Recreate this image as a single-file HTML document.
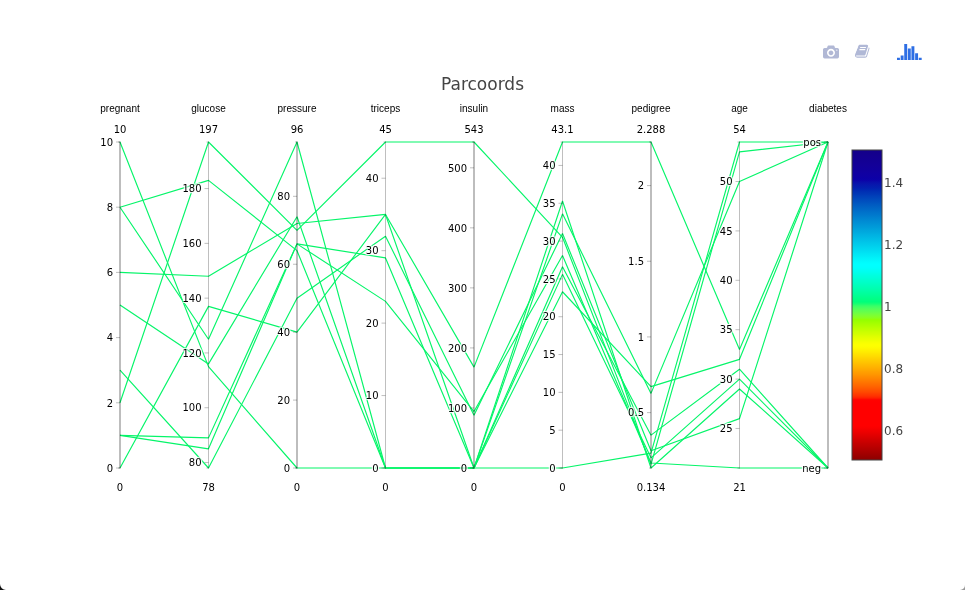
<!DOCTYPE html>
<html lang="en"><head><meta charset="utf-8"><title>Parcoords</title>
<style>
html,body{margin:0;padding:0;background:#fff;}
body{width:965px;height:590px;overflow:hidden;position:relative;}
svg{position:absolute;left:0;top:0;display:block;will-change:transform;}
.ttl{font-family:"DejaVu Sans","Liberation Sans",sans-serif;font-size:17px;fill:#444;}
.axt{font-family:"Liberation Sans",sans-serif;font-size:10px;fill:#000;}
.ext{font-family:"DejaVu Sans","Liberation Sans",sans-serif;font-size:10px;fill:#000;}
.tk{font-family:"DejaVu Sans","Liberation Sans",sans-serif;font-size:10px;fill:#000;text-shadow:1px 1px 1px #fff,-1px -1px 1px #fff,1px -1px 1px #fff,-1px 1px 1px #fff;}
.cb{font-family:"DejaVu Sans","Liberation Sans",sans-serif;font-size:12px;fill:#444;}
</style></head><body>
<svg width="965" height="590" viewBox="0 0 965 590">
<defs><linearGradient id="jet" x1="0" y1="1" x2="0" y2="0">
<stop offset="0.000" stop-color="rgb(141,0,0)"/>
<stop offset="0.006" stop-color="rgb(147,0,0)"/>
<stop offset="0.013" stop-color="rgb(154,0,0)"/>
<stop offset="0.019" stop-color="rgb(161,0,0)"/>
<stop offset="0.026" stop-color="rgb(168,0,0)"/>
<stop offset="0.032" stop-color="rgb(175,0,0)"/>
<stop offset="0.039" stop-color="rgb(182,0,0)"/>
<stop offset="0.045" stop-color="rgb(189,0,0)"/>
<stop offset="0.052" stop-color="rgb(195,0,0)"/>
<stop offset="0.058" stop-color="rgb(202,0,0)"/>
<stop offset="0.065" stop-color="rgb(209,0,0)"/>
<stop offset="0.071" stop-color="rgb(216,0,0)"/>
<stop offset="0.077" stop-color="rgb(223,0,0)"/>
<stop offset="0.084" stop-color="rgb(230,0,0)"/>
<stop offset="0.090" stop-color="rgb(237,0,0)"/>
<stop offset="0.097" stop-color="rgb(243,0,0)"/>
<stop offset="0.103" stop-color="rgb(250,0,0)"/>
<stop offset="0.110" stop-color="rgb(255,0,0)"/>
<stop offset="0.116" stop-color="rgb(255,0,0)"/>
<stop offset="0.123" stop-color="rgb(255,0,0)"/>
<stop offset="0.129" stop-color="rgb(255,0,0)"/>
<stop offset="0.135" stop-color="rgb(255,0,0)"/>
<stop offset="0.142" stop-color="rgb(255,0,0)"/>
<stop offset="0.148" stop-color="rgb(255,0,0)"/>
<stop offset="0.155" stop-color="rgb(255,0,0)"/>
<stop offset="0.161" stop-color="rgb(255,0,0)"/>
<stop offset="0.168" stop-color="rgb(255,0,0)"/>
<stop offset="0.174" stop-color="rgb(255,0,0)"/>
<stop offset="0.181" stop-color="rgb(255,0,0)"/>
<stop offset="0.187" stop-color="rgb(255,0,0)"/>
<stop offset="0.194" stop-color="rgb(255,2,0)"/>
<stop offset="0.200" stop-color="rgb(255,32,0)"/>
<stop offset="0.206" stop-color="rgb(255,49,0)"/>
<stop offset="0.213" stop-color="rgb(255,61,0)"/>
<stop offset="0.219" stop-color="rgb(255,73,0)"/>
<stop offset="0.226" stop-color="rgb(255,83,0)"/>
<stop offset="0.232" stop-color="rgb(255,92,0)"/>
<stop offset="0.239" stop-color="rgb(255,102,0)"/>
<stop offset="0.245" stop-color="rgb(255,110,0)"/>
<stop offset="0.252" stop-color="rgb(255,119,0)"/>
<stop offset="0.258" stop-color="rgb(255,127,0)"/>
<stop offset="0.265" stop-color="rgb(255,136,0)"/>
<stop offset="0.271" stop-color="rgb(255,144,0)"/>
<stop offset="0.277" stop-color="rgb(255,152,0)"/>
<stop offset="0.284" stop-color="rgb(255,159,0)"/>
<stop offset="0.290" stop-color="rgb(255,167,0)"/>
<stop offset="0.297" stop-color="rgb(255,175,0)"/>
<stop offset="0.303" stop-color="rgb(255,182,0)"/>
<stop offset="0.310" stop-color="rgb(255,190,0)"/>
<stop offset="0.316" stop-color="rgb(255,197,0)"/>
<stop offset="0.323" stop-color="rgb(255,205,0)"/>
<stop offset="0.329" stop-color="rgb(255,212,0)"/>
<stop offset="0.335" stop-color="rgb(255,220,0)"/>
<stop offset="0.342" stop-color="rgb(255,227,0)"/>
<stop offset="0.348" stop-color="rgb(255,235,0)"/>
<stop offset="0.355" stop-color="rgb(255,242,0)"/>
<stop offset="0.361" stop-color="rgb(255,249,0)"/>
<stop offset="0.368" stop-color="rgb(253,255,0)"/>
<stop offset="0.374" stop-color="rgb(252,255,0)"/>
<stop offset="0.381" stop-color="rgb(245,255,0)"/>
<stop offset="0.387" stop-color="rgb(236,255,0)"/>
<stop offset="0.394" stop-color="rgb(228,255,0)"/>
<stop offset="0.400" stop-color="rgb(220,255,0)"/>
<stop offset="0.406" stop-color="rgb(211,255,0)"/>
<stop offset="0.413" stop-color="rgb(203,255,0)"/>
<stop offset="0.419" stop-color="rgb(194,255,0)"/>
<stop offset="0.426" stop-color="rgb(185,255,0)"/>
<stop offset="0.432" stop-color="rgb(176,255,0)"/>
<stop offset="0.439" stop-color="rgb(167,255,0)"/>
<stop offset="0.445" stop-color="rgb(158,255,0)"/>
<stop offset="0.452" stop-color="rgb(148,255,0)"/>
<stop offset="0.458" stop-color="rgb(138,255,29)"/>
<stop offset="0.465" stop-color="rgb(127,255,48)"/>
<stop offset="0.471" stop-color="rgb(116,255,62)"/>
<stop offset="0.477" stop-color="rgb(103,255,74)"/>
<stop offset="0.484" stop-color="rgb(90,255,85)"/>
<stop offset="0.490" stop-color="rgb(75,255,95)"/>
<stop offset="0.497" stop-color="rgb(56,255,104)"/>
<stop offset="0.503" stop-color="rgb(26,255,113)"/>
<stop offset="0.510" stop-color="rgb(0,255,122)"/>
<stop offset="0.516" stop-color="rgb(0,255,130)"/>
<stop offset="0.523" stop-color="rgb(0,255,138)"/>
<stop offset="0.529" stop-color="rgb(0,255,146)"/>
<stop offset="0.535" stop-color="rgb(0,255,154)"/>
<stop offset="0.542" stop-color="rgb(0,255,162)"/>
<stop offset="0.548" stop-color="rgb(0,255,170)"/>
<stop offset="0.555" stop-color="rgb(0,255,178)"/>
<stop offset="0.561" stop-color="rgb(0,255,185)"/>
<stop offset="0.568" stop-color="rgb(0,255,193)"/>
<stop offset="0.574" stop-color="rgb(0,255,200)"/>
<stop offset="0.581" stop-color="rgb(0,255,207)"/>
<stop offset="0.587" stop-color="rgb(0,255,215)"/>
<stop offset="0.594" stop-color="rgb(0,255,222)"/>
<stop offset="0.600" stop-color="rgb(0,255,229)"/>
<stop offset="0.606" stop-color="rgb(0,255,237)"/>
<stop offset="0.613" stop-color="rgb(0,255,244)"/>
<stop offset="0.619" stop-color="rgb(0,255,251)"/>
<stop offset="0.626" stop-color="rgb(0,255,255)"/>
<stop offset="0.632" stop-color="rgb(0,255,255)"/>
<stop offset="0.639" stop-color="rgb(0,251,253)"/>
<stop offset="0.645" stop-color="rgb(0,246,251)"/>
<stop offset="0.652" stop-color="rgb(0,241,249)"/>
<stop offset="0.658" stop-color="rgb(0,235,247)"/>
<stop offset="0.665" stop-color="rgb(0,230,245)"/>
<stop offset="0.671" stop-color="rgb(0,224,243)"/>
<stop offset="0.677" stop-color="rgb(0,219,241)"/>
<stop offset="0.684" stop-color="rgb(0,213,239)"/>
<stop offset="0.690" stop-color="rgb(0,208,237)"/>
<stop offset="0.697" stop-color="rgb(0,202,235)"/>
<stop offset="0.703" stop-color="rgb(0,197,233)"/>
<stop offset="0.710" stop-color="rgb(0,191,231)"/>
<stop offset="0.716" stop-color="rgb(0,186,229)"/>
<stop offset="0.723" stop-color="rgb(0,180,227)"/>
<stop offset="0.729" stop-color="rgb(0,175,225)"/>
<stop offset="0.735" stop-color="rgb(0,169,222)"/>
<stop offset="0.742" stop-color="rgb(0,164,220)"/>
<stop offset="0.748" stop-color="rgb(0,158,218)"/>
<stop offset="0.755" stop-color="rgb(0,152,216)"/>
<stop offset="0.761" stop-color="rgb(0,147,214)"/>
<stop offset="0.768" stop-color="rgb(0,141,212)"/>
<stop offset="0.774" stop-color="rgb(0,136,210)"/>
<stop offset="0.781" stop-color="rgb(0,130,208)"/>
<stop offset="0.787" stop-color="rgb(0,124,206)"/>
<stop offset="0.794" stop-color="rgb(0,118,204)"/>
<stop offset="0.800" stop-color="rgb(0,113,202)"/>
<stop offset="0.806" stop-color="rgb(0,107,200)"/>
<stop offset="0.813" stop-color="rgb(0,101,197)"/>
<stop offset="0.819" stop-color="rgb(0,95,195)"/>
<stop offset="0.826" stop-color="rgb(0,89,193)"/>
<stop offset="0.832" stop-color="rgb(0,82,191)"/>
<stop offset="0.839" stop-color="rgb(0,76,189)"/>
<stop offset="0.845" stop-color="rgb(0,70,187)"/>
<stop offset="0.852" stop-color="rgb(0,63,185)"/>
<stop offset="0.858" stop-color="rgb(0,56,182)"/>
<stop offset="0.865" stop-color="rgb(0,49,180)"/>
<stop offset="0.871" stop-color="rgb(0,41,178)"/>
<stop offset="0.877" stop-color="rgb(3,33,176)"/>
<stop offset="0.884" stop-color="rgb(5,27,174)"/>
<stop offset="0.890" stop-color="rgb(8,21,172)"/>
<stop offset="0.897" stop-color="rgb(10,13,170)"/>
<stop offset="0.903" stop-color="rgb(12,2,168)"/>
<stop offset="0.910" stop-color="rgb(13,0,166)"/>
<stop offset="0.916" stop-color="rgb(15,0,164)"/>
<stop offset="0.923" stop-color="rgb(16,0,162)"/>
<stop offset="0.929" stop-color="rgb(17,0,160)"/>
<stop offset="0.935" stop-color="rgb(17,0,157)"/>
<stop offset="0.942" stop-color="rgb(18,0,155)"/>
<stop offset="0.948" stop-color="rgb(19,0,153)"/>
<stop offset="0.955" stop-color="rgb(19,0,151)"/>
<stop offset="0.961" stop-color="rgb(19,0,149)"/>
<stop offset="0.968" stop-color="rgb(19,0,147)"/>
<stop offset="0.974" stop-color="rgb(20,0,145)"/>
<stop offset="0.981" stop-color="rgb(20,0,143)"/>
<stop offset="0.987" stop-color="rgb(20,0,141)"/>
<stop offset="0.994" stop-color="rgb(20,0,139)"/>
<stop offset="1.000" stop-color="rgb(20,0,137)"/>
</linearGradient></defs>
<rect x="0" y="0" width="965" height="590" fill="#fff"/>
<g fill="none" stroke="rgb(5,245,105)" stroke-width="1.15" stroke-linejoin="bevel" stroke-linecap="butt">
<polyline points="120.00,272.40 208.50,276.24 297.00,223.50 385.50,214.44 474.00,468.00 562.50,213.86 651.00,393.39 739.50,181.52 828.00,142.00"/>
<polyline points="120.00,435.40 208.50,448.82 297.00,243.88 385.50,257.91 474.00,468.00 562.50,266.80 651.00,435.16 739.50,369.21 828.00,468.00"/>
<polyline points="120.00,207.20 208.50,180.35 297.00,250.67 385.50,468.00 474.00,468.00 562.50,291.76 651.00,386.58 739.50,359.33 828.00,142.00"/>
<polyline points="120.00,435.40 208.50,437.87 297.00,243.88 385.50,301.38 474.00,411.57 562.50,255.46 651.00,463.01 739.50,468.00 828.00,468.00"/>
<polyline points="120.00,468.00 208.50,306.37 297.00,332.17 385.50,214.44 474.00,367.14 562.50,142.00 651.00,142.00 739.50,349.45 828.00,142.00"/>
<polyline points="120.00,305.00 208.50,363.90 297.00,216.71 385.50,468.00 474.00,468.00 562.50,274.37 651.00,457.86 739.50,379.09 828.00,468.00"/>
<polyline points="120.00,370.20 208.50,468.00 297.00,298.21 385.50,236.18 474.00,415.17 562.50,233.52 651.00,450.75 739.50,418.61 828.00,142.00"/>
<polyline points="120.00,142.00 208.50,366.64 297.00,468.00 385.50,468.00 474.00,468.00 562.50,201.00 651.00,468.00 739.50,388.97 828.00,468.00"/>
<polyline points="120.00,402.80 208.50,142.00 297.00,230.29 385.50,142.00 474.00,142.00 562.50,237.30 651.00,464.37 739.50,151.88 828.00,142.00"/>
<polyline points="120.00,207.20 208.50,339.24 297.00,142.00 385.50,468.00 474.00,468.00 562.50,468.00 651.00,453.17 739.50,142.00 828.00,142.00"/>
</g>
<g>
<rect x="119.0" y="141.5" width="2" height="327.0" fill="#000" fill-opacity="0.26"/>
<path d="M120.0,142.0h-2M120.0,468.0h-2" stroke="#000" stroke-opacity="0.25" fill="none"/>
<line x1="116.0" x2="120.0" y1="468.00" y2="468.00" stroke="#000" stroke-opacity="0.25"/>
<text class="tk" x="113.0" y="471.70" text-anchor="end">0</text>
<line x1="116.0" x2="120.0" y1="402.80" y2="402.80" stroke="#000" stroke-opacity="0.25"/>
<text class="tk" x="113.0" y="406.50" text-anchor="end">2</text>
<line x1="116.0" x2="120.0" y1="337.60" y2="337.60" stroke="#000" stroke-opacity="0.25"/>
<text class="tk" x="113.0" y="341.30" text-anchor="end">4</text>
<line x1="116.0" x2="120.0" y1="272.40" y2="272.40" stroke="#000" stroke-opacity="0.25"/>
<text class="tk" x="113.0" y="276.10" text-anchor="end">6</text>
<line x1="116.0" x2="120.0" y1="207.20" y2="207.20" stroke="#000" stroke-opacity="0.25"/>
<text class="tk" x="113.0" y="210.90" text-anchor="end">8</text>
<line x1="116.0" x2="120.0" y1="142.00" y2="142.00" stroke="#000" stroke-opacity="0.25"/>
<text class="tk" x="113.0" y="145.70" text-anchor="end">10</text>
<text class="axt" x="120.0" y="112" text-anchor="middle">pregnant</text>
<text class="ext" x="120.0" y="132.6" text-anchor="middle">10</text>
<text class="ext" x="120.0" y="491" text-anchor="middle">0</text>
</g>
<g>
<rect x="208.0" y="141.5" width="1" height="327.0" fill="#000" fill-opacity="0.25"/>
<path d="M208.5,142.0h-2M208.5,468.0h-2" stroke="#000" stroke-opacity="0.25" fill="none"/>
<line x1="204.5" x2="208.5" y1="462.52" y2="462.52" stroke="#000" stroke-opacity="0.25"/>
<text class="tk" x="201.5" y="466.22" text-anchor="end">80</text>
<line x1="204.5" x2="208.5" y1="407.73" y2="407.73" stroke="#000" stroke-opacity="0.25"/>
<text class="tk" x="201.5" y="411.43" text-anchor="end">100</text>
<line x1="204.5" x2="208.5" y1="352.94" y2="352.94" stroke="#000" stroke-opacity="0.25"/>
<text class="tk" x="201.5" y="356.64" text-anchor="end">120</text>
<line x1="204.5" x2="208.5" y1="298.15" y2="298.15" stroke="#000" stroke-opacity="0.25"/>
<text class="tk" x="201.5" y="301.85" text-anchor="end">140</text>
<line x1="204.5" x2="208.5" y1="243.36" y2="243.36" stroke="#000" stroke-opacity="0.25"/>
<text class="tk" x="201.5" y="247.06" text-anchor="end">160</text>
<line x1="204.5" x2="208.5" y1="188.57" y2="188.57" stroke="#000" stroke-opacity="0.25"/>
<text class="tk" x="201.5" y="192.27" text-anchor="end">180</text>
<text class="axt" x="208.5" y="112" text-anchor="middle">glucose</text>
<text class="ext" x="208.5" y="132.6" text-anchor="middle">197</text>
<text class="ext" x="208.5" y="491" text-anchor="middle">78</text>
</g>
<g>
<rect x="296.0" y="141.5" width="2" height="327.0" fill="#000" fill-opacity="0.26"/>
<path d="M297.0,142.0h-2M297.0,468.0h-2" stroke="#000" stroke-opacity="0.25" fill="none"/>
<line x1="293.0" x2="297.0" y1="468.00" y2="468.00" stroke="#000" stroke-opacity="0.25"/>
<text class="tk" x="290.0" y="471.70" text-anchor="end">0</text>
<line x1="293.0" x2="297.0" y1="400.08" y2="400.08" stroke="#000" stroke-opacity="0.25"/>
<text class="tk" x="290.0" y="403.78" text-anchor="end">20</text>
<line x1="293.0" x2="297.0" y1="332.17" y2="332.17" stroke="#000" stroke-opacity="0.25"/>
<text class="tk" x="290.0" y="335.87" text-anchor="end">40</text>
<line x1="293.0" x2="297.0" y1="264.25" y2="264.25" stroke="#000" stroke-opacity="0.25"/>
<text class="tk" x="290.0" y="267.95" text-anchor="end">60</text>
<line x1="293.0" x2="297.0" y1="196.33" y2="196.33" stroke="#000" stroke-opacity="0.25"/>
<text class="tk" x="290.0" y="200.03" text-anchor="end">80</text>
<text class="axt" x="297.0" y="112" text-anchor="middle">pressure</text>
<text class="ext" x="297.0" y="132.6" text-anchor="middle">96</text>
<text class="ext" x="297.0" y="491" text-anchor="middle">0</text>
</g>
<g>
<rect x="385.0" y="141.5" width="1" height="327.0" fill="#000" fill-opacity="0.25"/>
<path d="M385.5,142.0h-2M385.5,468.0h-2" stroke="#000" stroke-opacity="0.25" fill="none"/>
<line x1="381.5" x2="385.5" y1="468.00" y2="468.00" stroke="#000" stroke-opacity="0.25"/>
<text class="tk" x="378.5" y="471.70" text-anchor="end">0</text>
<line x1="381.5" x2="385.5" y1="395.56" y2="395.56" stroke="#000" stroke-opacity="0.25"/>
<text class="tk" x="378.5" y="399.26" text-anchor="end">10</text>
<line x1="381.5" x2="385.5" y1="323.11" y2="323.11" stroke="#000" stroke-opacity="0.25"/>
<text class="tk" x="378.5" y="326.81" text-anchor="end">20</text>
<line x1="381.5" x2="385.5" y1="250.67" y2="250.67" stroke="#000" stroke-opacity="0.25"/>
<text class="tk" x="378.5" y="254.37" text-anchor="end">30</text>
<line x1="381.5" x2="385.5" y1="178.22" y2="178.22" stroke="#000" stroke-opacity="0.25"/>
<text class="tk" x="378.5" y="181.92" text-anchor="end">40</text>
<text class="axt" x="385.5" y="112" text-anchor="middle">triceps</text>
<text class="ext" x="385.5" y="132.6" text-anchor="middle">45</text>
<text class="ext" x="385.5" y="491" text-anchor="middle">0</text>
</g>
<g>
<rect x="473.0" y="141.5" width="2" height="327.0" fill="#000" fill-opacity="0.26"/>
<path d="M474.0,142.0h-2M474.0,468.0h-2" stroke="#000" stroke-opacity="0.25" fill="none"/>
<line x1="470.0" x2="474.0" y1="468.00" y2="468.00" stroke="#000" stroke-opacity="0.25"/>
<text class="tk" x="467.0" y="471.70" text-anchor="end">0</text>
<line x1="470.0" x2="474.0" y1="407.96" y2="407.96" stroke="#000" stroke-opacity="0.25"/>
<text class="tk" x="467.0" y="411.66" text-anchor="end">100</text>
<line x1="470.0" x2="474.0" y1="347.93" y2="347.93" stroke="#000" stroke-opacity="0.25"/>
<text class="tk" x="467.0" y="351.63" text-anchor="end">200</text>
<line x1="470.0" x2="474.0" y1="287.89" y2="287.89" stroke="#000" stroke-opacity="0.25"/>
<text class="tk" x="467.0" y="291.59" text-anchor="end">300</text>
<line x1="470.0" x2="474.0" y1="227.85" y2="227.85" stroke="#000" stroke-opacity="0.25"/>
<text class="tk" x="467.0" y="231.55" text-anchor="end">400</text>
<line x1="470.0" x2="474.0" y1="167.82" y2="167.82" stroke="#000" stroke-opacity="0.25"/>
<text class="tk" x="467.0" y="171.52" text-anchor="end">500</text>
<text class="axt" x="474.0" y="112" text-anchor="middle">insulin</text>
<text class="ext" x="474.0" y="132.6" text-anchor="middle">543</text>
<text class="ext" x="474.0" y="491" text-anchor="middle">0</text>
</g>
<g>
<rect x="562.0" y="141.5" width="1" height="327.0" fill="#000" fill-opacity="0.25"/>
<path d="M562.5,142.0h-2M562.5,468.0h-2" stroke="#000" stroke-opacity="0.25" fill="none"/>
<line x1="558.5" x2="562.5" y1="468.00" y2="468.00" stroke="#000" stroke-opacity="0.25"/>
<text class="tk" x="555.5" y="471.70" text-anchor="end">0</text>
<line x1="558.5" x2="562.5" y1="430.18" y2="430.18" stroke="#000" stroke-opacity="0.25"/>
<text class="tk" x="555.5" y="433.88" text-anchor="end">5</text>
<line x1="558.5" x2="562.5" y1="392.36" y2="392.36" stroke="#000" stroke-opacity="0.25"/>
<text class="tk" x="555.5" y="396.06" text-anchor="end">10</text>
<line x1="558.5" x2="562.5" y1="354.54" y2="354.54" stroke="#000" stroke-opacity="0.25"/>
<text class="tk" x="555.5" y="358.24" text-anchor="end">15</text>
<line x1="558.5" x2="562.5" y1="316.72" y2="316.72" stroke="#000" stroke-opacity="0.25"/>
<text class="tk" x="555.5" y="320.42" text-anchor="end">20</text>
<line x1="558.5" x2="562.5" y1="278.90" y2="278.90" stroke="#000" stroke-opacity="0.25"/>
<text class="tk" x="555.5" y="282.60" text-anchor="end">25</text>
<line x1="558.5" x2="562.5" y1="241.09" y2="241.09" stroke="#000" stroke-opacity="0.25"/>
<text class="tk" x="555.5" y="244.79" text-anchor="end">30</text>
<line x1="558.5" x2="562.5" y1="203.27" y2="203.27" stroke="#000" stroke-opacity="0.25"/>
<text class="tk" x="555.5" y="206.97" text-anchor="end">35</text>
<line x1="558.5" x2="562.5" y1="165.45" y2="165.45" stroke="#000" stroke-opacity="0.25"/>
<text class="tk" x="555.5" y="169.15" text-anchor="end">40</text>
<text class="axt" x="562.5" y="112" text-anchor="middle">mass</text>
<text class="ext" x="562.5" y="132.6" text-anchor="middle">43.1</text>
<text class="ext" x="562.5" y="491" text-anchor="middle">0</text>
</g>
<g>
<rect x="650.0" y="141.5" width="2" height="327.0" fill="#000" fill-opacity="0.26"/>
<path d="M651.0,142.0h-2M651.0,468.0h-2" stroke="#000" stroke-opacity="0.25" fill="none"/>
<line x1="647.0" x2="651.0" y1="412.61" y2="412.61" stroke="#000" stroke-opacity="0.25"/>
<text class="tk" x="644.0" y="416.31" text-anchor="end">0.5</text>
<line x1="647.0" x2="651.0" y1="336.93" y2="336.93" stroke="#000" stroke-opacity="0.25"/>
<text class="tk" x="644.0" y="340.63" text-anchor="end">1</text>
<line x1="647.0" x2="651.0" y1="261.26" y2="261.26" stroke="#000" stroke-opacity="0.25"/>
<text class="tk" x="644.0" y="264.96" text-anchor="end">1.5</text>
<line x1="647.0" x2="651.0" y1="185.59" y2="185.59" stroke="#000" stroke-opacity="0.25"/>
<text class="tk" x="644.0" y="189.29" text-anchor="end">2</text>
<text class="axt" x="651.0" y="112" text-anchor="middle">pedigree</text>
<text class="ext" x="651.0" y="132.6" text-anchor="middle">2.288</text>
<text class="ext" x="651.0" y="491" text-anchor="middle">0.134</text>
</g>
<g>
<rect x="739.0" y="141.5" width="1" height="327.0" fill="#000" fill-opacity="0.25"/>
<path d="M739.5,142.0h-2M739.5,468.0h-2" stroke="#000" stroke-opacity="0.25" fill="none"/>
<line x1="735.5" x2="739.5" y1="428.48" y2="428.48" stroke="#000" stroke-opacity="0.25"/>
<text class="tk" x="732.5" y="432.18" text-anchor="end">25</text>
<line x1="735.5" x2="739.5" y1="379.09" y2="379.09" stroke="#000" stroke-opacity="0.25"/>
<text class="tk" x="732.5" y="382.79" text-anchor="end">30</text>
<line x1="735.5" x2="739.5" y1="329.70" y2="329.70" stroke="#000" stroke-opacity="0.25"/>
<text class="tk" x="732.5" y="333.40" text-anchor="end">35</text>
<line x1="735.5" x2="739.5" y1="280.30" y2="280.30" stroke="#000" stroke-opacity="0.25"/>
<text class="tk" x="732.5" y="284.00" text-anchor="end">40</text>
<line x1="735.5" x2="739.5" y1="230.91" y2="230.91" stroke="#000" stroke-opacity="0.25"/>
<text class="tk" x="732.5" y="234.61" text-anchor="end">45</text>
<line x1="735.5" x2="739.5" y1="181.52" y2="181.52" stroke="#000" stroke-opacity="0.25"/>
<text class="tk" x="732.5" y="185.22" text-anchor="end">50</text>
<text class="axt" x="739.5" y="112" text-anchor="middle">age</text>
<text class="ext" x="739.5" y="132.6" text-anchor="middle">54</text>
<text class="ext" x="739.5" y="491" text-anchor="middle">21</text>
</g>
<g>
<rect x="827.0" y="141.5" width="2" height="327.0" fill="#000" fill-opacity="0.26"/>
<path d="M828.0,142.0h-2M828.0,468.0h-2" stroke="#000" stroke-opacity="0.25" fill="none"/>
<line x1="824.0" x2="828.0" y1="468.00" y2="468.00" stroke="#000" stroke-opacity="0.25"/>
<text class="tk" x="821.0" y="471.70" text-anchor="end">neg</text>
<line x1="824.0" x2="828.0" y1="142.00" y2="142.00" stroke="#000" stroke-opacity="0.25"/>
<text class="tk" x="821.0" y="145.70" text-anchor="end">pos</text>
<text class="axt" x="828.0" y="112" text-anchor="middle">diabetes</text>
</g>
<rect x="852" y="150" width="30" height="310" fill="url(#jet)"/>
<rect x="852" y="150" width="30" height="310" fill="none" stroke="#444" stroke-width="1"/>
<text class="cb" x="884" y="434.90">0.6</text>
<text class="cb" x="884" y="372.90">0.8</text>
<text class="cb" x="884" y="310.90">1</text>
<text class="cb" x="884" y="248.90">1.2</text>
<text class="cb" x="884" y="186.90">1.4</text>
<text class="ttl" x="482.5" y="90" text-anchor="middle">Parcoords</text>
<g transform="translate(823,44) scale(0.016)"><path transform="matrix(1 0 0 -1 0 850)" fill="rgb(177,184,213)" d="m500 450c-83 0-150-67-150-150 0-83 67-150 150-150 83 0 150 67 150 150 0 83-67 150-150 150z m400 150h-120c-16 0-34 13-39 29l-31 93c-6 15-23 28-40 28h-340c-16 0-34-13-39-28l-31-94c-6-15-23-28-40-28h-120c-55 0-100-45-100-100v-450c0-55 45-100 100-100h800c55 0 100 45 100 100v450c0 55-45 100-100 100z m-400-550c-138 0-250 112-250 250 0 138 112 250 250 250 138 0 250-112 250-250 0-138-112-250-250-250z m365 380c-19 0-35 16-35 35 0 19 16 35 35 35 19 0 35-16 35-35 0-19-16-35-35-35z"/></g>
<g transform="translate(855,56.62) scale(0.008707,-0.0084)"><path fill="rgb(176,184,214)" d="M1639 1058q40 -57 18 -129l-275 -906q-19 -64 -76.5 -107.5t-122.5 -43.5h-923q-77 0 -148.5 53.5t-99.5 131.5q-24 67 -2 127q0 4 3 27t4 37q1 8 -3 21.5t-3 19.5q2 11 8 21t16.5 23.5t16.5 23.5q23 38 45 91.5t30 91.5q3 10 0.5 30t-0.5 28q3 11 17 28t17 23q21 36 42 92t25 90q1 9 -2.5 32t0.5 28q4 13 22 30.5t22 22.5q19 26 42.5 84.5t27.5 96.5q1 8 -3 25.5t-2 26.5q2 8 9 18t18 23t17 21q8 12 16.5 30.500t15 35t16 36t19.5 32t26.5 23.5t36 11.5t47.5 -5.5l-1 -3q38 9 51 9h761q74 0 114 -56t18 -130l-274 -906q-36 -119 -71.5 -153.5t-128.5 -34.5h-869q-27 0 -38 -15q-11 -16 -1 -43q24 -70 144 -70h923q29 0 56 15.5t35 41.5l300 987q7 22 5 57q38 -15 59 -43zM575 1056q-4 -13 2 -22.5t20 -9.5h608q13 0 25.5 9.5t16.5 22.5l21 64q4 13 -2 22.5t-20 9.5h-608q-13 0 -25.5 -9.5t-16.500 -22.5zM492 800q-4 -13 2 -22.5t20 -9.5h608q13 0 25.500 9.5t16.5 22.5l21 64q4 13 -2 22.5t-20 9.5h-608q-13 0 -25.5 -9.5t-16.5 -22.5z"/></g>
<g transform="translate(897,44) scale(0.016)"><path transform="matrix(1 0 0 -1 0 850)" fill="rgb(45,110,228)" d="m0-10h182v-140h-182v140z m228 146h183v-286h-183v286z m225 714h182v-1000h-182v1000z m225-285h182v-715h-182v715z m225 142h183v-857h-183v857z m231-428h182v-429h-182v429z m225-291h183v-138h-183v138z"/></g>
<path d="M0,590V584A6,6 0 0 0 6,590Z" fill="#111"/>
<path d="M965,590V585A5,5 0 0 1 960,590Z" fill="#999"/>
</svg>
</body></html>
